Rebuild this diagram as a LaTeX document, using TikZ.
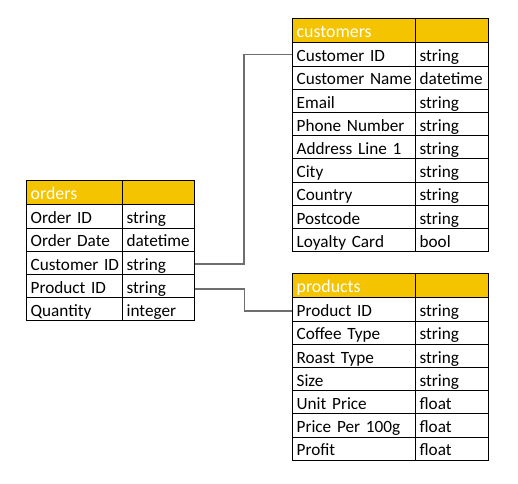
\documentclass[tikz,border=0pt]{standalone}
\usepackage{fontspec}
\setmainfont{Carlito}
\definecolor{hdr}{RGB}{245,196,0}
\definecolor{conn}{RGB}{110,110,110}
\begin{document}
\begin{tikzpicture}[x=0.75pt,y=-0.75pt,
  cell/.style={draw=black, line width=0.8pt, rectangle, anchor=north west,
    inner xsep=3.8*0.75pt, inner ysep=0pt, minimum height=23.2*0.75pt,
    text height=14.6*0.75pt, text depth=0.2*0.75pt,
    font=\fontsize{12.9}{14}\selectfont, align=left},
  hcell/.style={cell, fill=hdr, text=white, minimum height=24*0.75pt,
    text height=12.4*0.75pt, text depth=0pt, font=\fontsize{13.4}{15}\selectfont},
  wo1/.style={text width=(96-7.6)*0.75pt},
  wo2/.style={text width=(72-7.6)*0.75pt},
  wc1/.style={text width=(123-7.6)*0.75pt},
  wc2/.style={text width=(72.4-7.6)*0.75pt},
  link/.style={draw=conn, line width=1.1pt}]
\useasboundingbox (0,0) rectangle (518,483);
% orders
\node[hcell, wo1] (oh1) at (26.3,180.3) {orders};
\node[hcell, wo2] (oh2) at (122.3,180.3) {};
\foreach \a/\b [count=\i] in {Order ID/string, Order Date/datetime, Customer ID/string, Product ID/string, Quantity/integer}{
  \node[cell, wo1] (o\i a) at (26.3,{204.3+(\i-1)*23.2}) {\a};
  \node[cell, wo2] (o\i b) at (122.3,{204.3+(\i-1)*23.2}) {\b};
}
% customers
\node[hcell, wc1] (ch1) at (292.3,18.3) {customers};
\node[hcell, wc2] (ch2) at (415.3,18.3) {};
\foreach \a/\b [count=\i] in {Customer ID/string, Customer Name/datetime, Email/string, Phone Number/string, Address Line 1/string, City/string, Country/string, Postcode/string, Loyalty Card/bool}{
  \node[cell, wc1] (c\i a) at (292.3,{42.3+(\i-1)*23.2}) {\a};
  \node[cell, wc2] (c\i b) at (415.3,{42.3+(\i-1)*23.2}) {\b};
}
% products
\node[hcell, wc1] (ph1) at (292.3,273.3) {products};
\node[hcell, wc2] (ph2) at (415.3,273.3) {};
\foreach \a/\b [count=\i] in {Product ID/string, Coffee Type/string, Roast Type/string, Size/string, Unit Price/float, Price Per 100g/float, Profit/float}{
  \node[cell, wc1] (p\i a) at (292.3,{297.3+(\i-1)*23.2}) {\a};
  \node[cell, wc2] (p\i b) at (415.3,{297.3+(\i-1)*23.2}) {\b};
}
% connectors
\draw[link] ([yshift=-1*0.75pt]o3b.east) -- ++(48.4,0) |- (c1a.west);
\draw[link] ([yshift=-2.8*0.75pt]o4b.east) -- ++(49,0) |- ([yshift=-1.5*0.75pt]p1a.west);
\end{tikzpicture}
\end{document}
